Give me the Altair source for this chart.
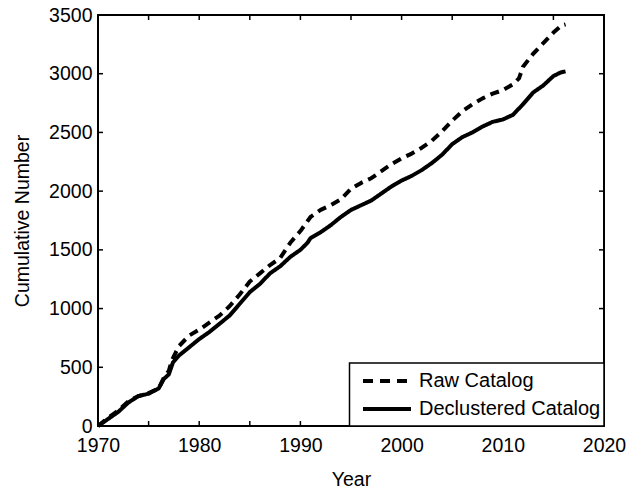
import altair as alt
import pandas as pd

# ---- data ----
raw_years = [1970, 1971, 1972, 1973, 1974, 1975, 1976, 1976.5, 1977, 1977.3, 1978, 1979, 1980,
             1981, 1982, 1983, 1984, 1985, 1986, 1987, 1988, 1989, 1990, 1991, 1992, 1993,
             1994, 1995, 1996, 1997, 1998, 1999, 2000, 2001, 2002, 2003, 2004, 2005, 2006,
             2007, 2008, 2009, 2010, 2011, 2011.6, 2012, 2013, 2014, 2015, 2015.8, 2016.2]
raw_counts = [0, 70, 130, 210, 255, 280, 320, 410, 470, 560, 680, 770, 820,
              880, 940, 1020, 1120, 1230, 1300, 1370, 1430, 1560, 1660, 1780, 1840, 1880,
              1930, 2020, 2070, 2110, 2170, 2230, 2280, 2320, 2370, 2430, 2510, 2600, 2680,
              2740, 2790, 2830, 2860, 2910, 2960, 3060, 3170, 3260, 3350, 3410, 3420]

dec_years = [1970, 1971, 1972, 1973, 1974, 1975, 1976, 1976.5, 1977, 1977.4, 1978, 1979, 1980,
             1981, 1982, 1983, 1984, 1985, 1986, 1987, 1988, 1989, 1990, 1990.7, 1991, 1992,
             1993, 1994, 1995, 1996, 1997, 1998, 1999, 2000, 2001, 2002, 2003, 2004, 2005,
             2006, 2007, 2008, 2009, 2010, 2011, 2012, 2013, 2014, 2015, 2015.7, 2016.2]
dec_counts = [0, 60, 120, 200, 255, 275, 320, 400, 440, 540, 600, 670, 740,
              800, 870, 940, 1040, 1140, 1210, 1300, 1360, 1440, 1500, 1560, 1600, 1650,
              1710, 1780, 1840, 1880, 1920, 1980, 2040, 2090, 2130, 2180, 2240, 2310, 2400,
              2460, 2500, 2550, 2590, 2610, 2650, 2740, 2840, 2900, 2980, 3010, 3020]

series_names = ["Raw Catalog", "Declustered Catalog"]
x_label_values = [1970, 1980, 1990, 2000, 2010, 2020]
x_tick_values = [1975, 1980, 1985, 1990, 1995, 2000, 2005, 2010, 2015]
y_tick_values = [500, 1000, 1500, 2000, 2500, 3000]
y_label_values = [0, 500, 1000, 1500, 2000, 2500, 3000, 3500]

FONT = "Liberation Sans"
W, H = 506, 411

df = pd.concat([
    pd.DataFrame({"year": raw_years, "count": raw_counts, "series": series_names[0]}),
    pd.DataFrame({"year": dec_years, "count": dec_counts, "series": series_names[1]}),
])

xscale = alt.Scale(domain=[1970, 2020], nice=False, zero=False)
yscale = alt.Scale(domain=[0, 3500], nice=False)

lines = alt.Chart(df).mark_line(strokeWidth=4, color="black", strokeCap="butt", strokeJoin="round").encode(
    x=alt.X("year:Q", scale=xscale,
            axis=alt.Axis(title="Year", values=x_label_values, format="d", ticks=False, tickSize=0,
                          grid=False, domain=False, labelFlush=False, labelPadding=10,
                          titlePadding=16)),
    y=alt.Y("count:Q", scale=yscale,
            axis=alt.Axis(title="Cumulative Number", values=y_label_values, format="d", ticks=False,
                          tickSize=0, grid=False, domain=False, labelFlush=False, labelPadding=6,
                          titlePadding=16)),
    strokeDash=alt.StrokeDash("series:N", scale=alt.Scale(domain=series_names, range=[[9, 6], [1, 0]]),
                              legend=None),
    detail="series:N",
)

xt = pd.DataFrame({"year": x_tick_values})
yt = pd.DataFrame({"count": y_tick_values})
tick_bottom = alt.Chart(xt).mark_rule(color="black", strokeWidth=1.5).encode(
    x=alt.X("year:Q", scale=xscale), y=alt.value(H), y2=alt.value(H - 5))
tick_top = alt.Chart(xt).mark_rule(color="black", strokeWidth=1.5).encode(
    x=alt.X("year:Q", scale=xscale), y=alt.value(0), y2=alt.value(5))
tick_left = alt.Chart(yt).mark_rule(color="black", strokeWidth=1.5).encode(
    y=alt.Y("count:Q", scale=yscale), x=alt.value(0), x2=alt.value(5))
tick_right = alt.Chart(yt).mark_rule(color="black", strokeWidth=1.5).encode(
    y=alt.Y("count:Q", scale=yscale), x=alt.value(W), x2=alt.value(W - 5))

one = alt.Data(values=[{}])
leg_box = alt.Chart(one).mark_rect(fill="white", stroke="black", strokeWidth=1.5).encode(
    x=alt.value(251.5), x2=alt.value(W), y=alt.value(348), y2=alt.value(H))
leg_dash = alt.Chart(one).mark_rule(color="black", strokeWidth=4, strokeDash=[10, 7]).encode(
    x=alt.value(265), x2=alt.value(313), y=alt.value(366))
leg_solid = alt.Chart(one).mark_rule(color="black", strokeWidth=4).encode(
    x=alt.value(265), x2=alt.value(313), y=alt.value(394))
leg_t1 = alt.Chart(one).mark_text(text=series_names[0], font=FONT, fontSize=20, align="left",
                                  baseline="middle", color="black").encode(
    x=alt.value(321), y=alt.value(366))
leg_t2 = alt.Chart(one).mark_text(text=series_names[1], font=FONT, fontSize=20, align="left",
                                  baseline="middle", color="black").encode(
    x=alt.value(321), y=alt.value(394))

chart = alt.layer(
    lines, tick_bottom, tick_top, tick_left, tick_right,
    leg_box, leg_dash, leg_solid, leg_t1, leg_t2
).properties(
    width=W, height=H,
    autosize=alt.AutoSizeParams(type="none"),
    padding={"left": 98, "top": 15, "right": 24, "bottom": 67},
    background="white",
).configure_view(
    stroke="black", strokeWidth=2
).configure_axis(
    labelFont=FONT, titleFont=FONT, labelFontSize=19.5, titleFontSize=19.5,
    labelColor="black", titleColor="black", titleFontWeight="normal"
)

chart.save("out.html", embed_options={"renderer": "svg", "actions": False})
